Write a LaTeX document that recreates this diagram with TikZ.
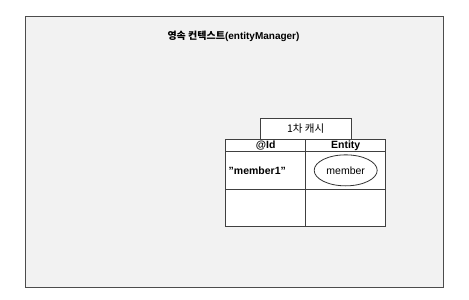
\documentclass[tikz,border=0pt]{standalone}
\usepackage{fontspec}
\setmainfont{Liberation Sans}
\newfontfamily\kr{Noto Sans CJK KR}
\usetikzlibrary{shapes.geometric,positioning,shadows}

\begin{document}
\begin{tikzpicture}[x=1pt, y=-1pt,
  font=\fontsize{10.5}{12}\selectfont,
  node distance=0pt,
  frame/.style ={rectangle, draw=black!70, fill=black!5, line width=1pt,
                 anchor=north west, minimum width=418pt, minimum height=271pt,
                 inner sep=0pt, outer sep=0pt,
                 drop shadow={shadow xshift=0.6pt, shadow yshift=-1.2pt,
                              opacity=0.35}},
  cell/.style  ={rectangle, draw=black!75, fill=white, line width=0.8pt,
                 minimum width=80pt, inner sep=0pt, outer sep=0pt},
  head/.style  ={cell, minimum height=12.7pt, font=\fontsize{10.5}{12}\selectfont\bfseries},
  row/.style   ={cell, minimum height=37.3pt},
  obj/.style   ={ellipse, draw=black!80, line width=0.8pt,
                 minimum width=63pt, minimum height=31pt, inner sep=0pt},
]
\useasboundingbox (0,0) rectangle (469,300);

% === Persistence context ===
\node[frame] (ctx) at (25,16) {};
\node[font=\fontsize{10}{12}\selectfont\bfseries] (title) at (233.5,36.5)
  {{\kr 영속 컨텍스트}(entityManager)};

% === First-level cache ===
\node[head, anchor=north west] (hid) at (225.7,139) {@Id};
\node[head, right=of hid] (hent) {Entity};
\node[row, below=of hid, align=left, text width=74pt, inner xsep=3pt,
      font=\fontsize{10.5}{12}\selectfont\bfseries] (rid) {"member1"};
\node[row, below=of hent] (rent) {};
\node[row, below=of rid] (eid) {};
\node[row, below=of rent] (eent) {};
\node[cell, minimum width=91pt, minimum height=21pt, above=of hid.north east,
      anchor=south] (tab) {{\kr 1차 캐시}};

% === Entity ===
\node[obj] (member) at (rent.center) {member};

\end{tikzpicture}
\end{document}
